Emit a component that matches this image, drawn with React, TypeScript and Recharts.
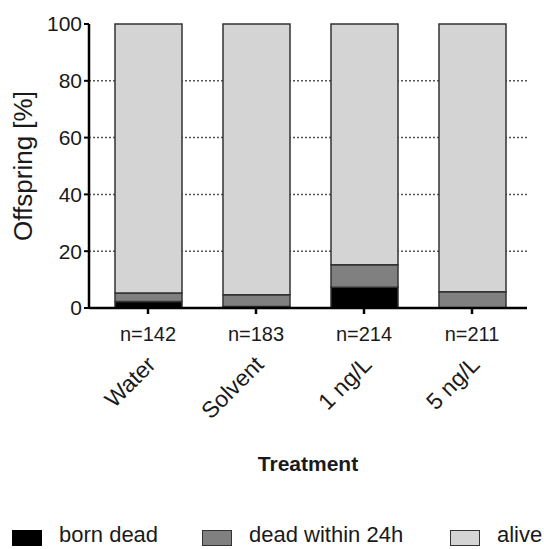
import React from "react";
import {
  BarChart,
  Bar,
  XAxis,
  YAxis,
  CartesianGrid,
} from "recharts";

// Offspring fate per treatment group, in percent of all offspring
const categories = ["Water", "Solvent", "1 ng/L", "5 ng/L"];
const sampleSizes = ["n=142", "n=183", "n=214", "n=211"];
const bornDead = [2.3, 0.5, 7.3, 0];
const deadWithin24h = [3.0, 4.2, 7.9, 5.7];
const alive = [94.7, 95.3, 84.8, 94.3];
const yTicks = [0, 20, 40, 60, 80, 100];

const FONT = "'Liberation Sans', Arial, sans-serif";
const TEXT = "#1a1a1a";
const EDGE = "#333333";

const SERIES = [
  { key: "bornDead", label: "born dead", fill: "#000000", border: "#000000" },
  { key: "deadWithin24h", label: "dead within 24h", fill: "#808080", border: EDGE },
  { key: "alive", label: "alive", fill: "#d4d4d4", border: EDGE },
];

const data = categories.map((name, i) => ({
  name,
  n: sampleSizes[i],
  bornDead: bornDead[i],
  deadWithin24h: deadWithin24h[i],
  alive: alive[i],
}));

function TreatmentTick(props: any) {
  const { x, y, payload } = props;
  const i = categories.indexOf(payload.value);
  return (
    <g transform={`translate(${x},${y})`}>
      <text
        x={0}
        y={27}
        textAnchor="middle"
        fontFamily={FONT}
        fontSize={20}
        fill={TEXT}
      >
        {sampleSizes[i]}
      </text>
      <text
        x={0}
        y={0}
        textAnchor="end"
        fontFamily={FONT}
        fontSize={23}
        fill={TEXT}
        transform="translate(9,52) rotate(-45)"
      >
        {payload.value}
      </text>
    </g>
  );
}

function YLabel(props: any) {
  const { viewBox } = props;
  const cx = viewBox.x + 32;
  const cy = viewBox.y + viewBox.height / 2;
  return (
    <text
      x={cx}
      y={cy}
      textAnchor="middle"
      fontFamily={FONT}
      fontSize={26}
      fill={TEXT}
      transform={`rotate(-90, ${cx}, ${cy})`}
    >
      Offspring [%]
    </text>
  );
}

function XLabel(props: any) {
  const { viewBox } = props;
  return (
    <text
      x={viewBox.x + viewBox.width / 2}
      y={471}
      textAnchor="middle"
      fontFamily={FONT}
      fontSize={21}
      fontWeight="bold"
      fill={TEXT}
    >
      Treatment
    </text>
  );
}

function FateLegend() {
  const starts = [12, 202, 450];
  return (
    <div style={{ position: "absolute", left: 0, top: 0, width: 544, height: 549, pointerEvents: "none" }}>
      {SERIES.map((s, i) => (
        <div
          key={s.key}
          style={{
            position: "absolute",
            left: starts[i],
            top: 522,
            height: 26,
            lineHeight: "26px",
            display: "flex",
            alignItems: "center",
            fontFamily: FONT,
            fontSize: 22,
            color: TEXT,
            whiteSpace: "nowrap",
          }}
        >
          <span
            style={{
              display: "inline-block",
              width: 28,
              height: 14,
              background: s.fill,
              border: `1.5px solid ${s.border}`,
              marginRight: 17,
              marginTop: 6,
            }}
          />
          <span>{s.label}</span>
        </div>
      ))}
    </div>
  );
}

export default function App() {
  return (
    <div style={{ position: "absolute", left: 0, top: 0, width: 544, height: 549, overflow: "hidden", background: "#fff" }}>
      <BarChart
        width={544}
        height={549}
        data={data}
        margin={{ top: 24, right: 17, bottom: 211, left: 0 }}
      >
        <CartesianGrid
          vertical={false}
          horizontalValues={[20, 40, 60, 80]}
          stroke="#555"
          strokeWidth={1.5}
          strokeDasharray="2 2"
        />
        <XAxis
          dataKey="name"
          height={30}
          padding={{ left: 5, right: 1 }}
          axisLine={{ stroke: "#000", strokeWidth: 2.5 }}
          tickLine={{ stroke: "#000", strokeWidth: 2.5 }}
          tickSize={6}
          tickMargin={0}
          tick={<TreatmentTick />}
          interval={0}
          label={<XLabel />}
        />
        <YAxis
          width={89}
          domain={[0, 100]}
          ticks={yTicks}
          interval={0}
          axisLine={{ stroke: "#000", strokeWidth: 2.5 }}
          tickLine={{ stroke: "#000", strokeWidth: 2 }}
          tickSize={5}
          tickMargin={2}
          tick={{ fontFamily: FONT, fontSize: 21, fill: TEXT }}
          label={<YLabel />}
        />
        {SERIES.map((s) => (
          <Bar
            key={s.key}
            dataKey={s.key}
            stackId="fate"
            barSize={67}
            fill={s.fill}
            stroke={EDGE}
            strokeWidth={1.5}
            isAnimationActive={false}
          />
        ))}
      </BarChart>
      <FateLegend />
    </div>
  );
}
